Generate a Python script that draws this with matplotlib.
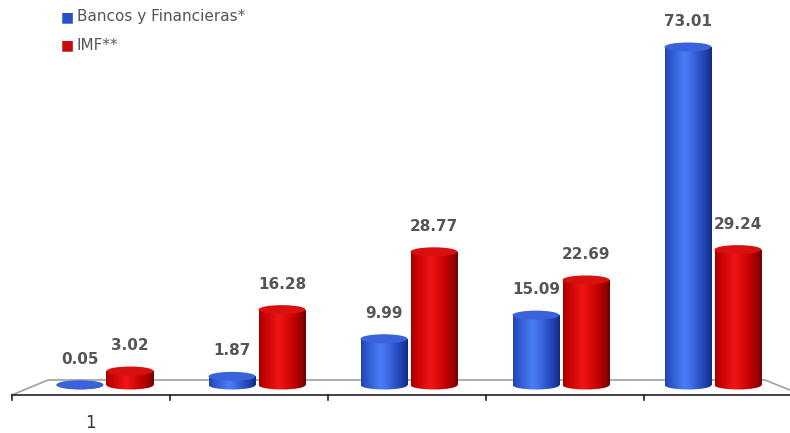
import numpy as np
import matplotlib.pyplot as plt
from matplotlib.patches import Ellipse, Rectangle
from matplotlib.colors import LinearSegmentedColormap

categories = ['1', '', '', '', '']
bancos = [0.05, 1.87, 9.99, 15.09, 73.01]
imf = [3.02, 16.28, 28.77, 22.69, 29.24]
series_names = ['Bancos y Financieras*', 'IMF**']

blue_cm = LinearSegmentedColormap.from_list('b', ['#102a80', '#2a50c8', '#4a7ef4'])
red_cm = LinearSegmentedColormap.from_list('r', ['#700000', '#c00000', '#f01616'])
blue_top = '#3a62dc'
red_top = '#d81010'

# pixel geometry -> data mapping
px_per_cat = 152.0
px_per_unit = 4.63
fig = plt.figure(figsize=(7.9, 4.33), dpi=100)
ax = fig.add_axes([0, 0, 1, 1])
ax.set_xlim(-105 / px_per_cat, (790 - 105) / px_per_cat)
ax.set_ylim(-48 / px_per_unit, (433 - 48) / px_per_unit)
ax.axis('off')

bw = 47 / px_per_cat
eh = 9 / px_per_unit
off = 25 / px_per_cat

# shading profile across the cylinder
t = np.linspace(0, 1, 64)
shade = np.clip(1 - np.abs(t - 0.42) / 0.58, 0, 1) ** 0.8
grad = shade[np.newaxis, :]


def cylinder(xc, h, cmap, topc, z):
    x0, x1 = xc - bw / 2, xc + bw / 2
    body = Rectangle((x0, 0), bw, h, transform=ax.transData)
    im = ax.imshow(grad, extent=[x0, x1, -eh / 2, h], aspect='auto', cmap=cmap,
                   vmin=0, vmax=1, zorder=z, interpolation='bilinear')
    im.set_clip_path(body)
    bot = Ellipse((xc, 0), bw, eh, transform=ax.transData)
    im2 = ax.imshow(grad, extent=[x0, x1, -eh / 2, eh / 2], aspect='auto', cmap=cmap,
                    vmin=0, vmax=1, zorder=z, interpolation='bilinear')
    im2.set_clip_path(bot)
    ax.add_patch(Ellipse((xc, h), bw, eh, facecolor=topc, edgecolor='none', zorder=z + 0.1))


# floor drawn in perspective: the front edge is slightly wider than the back
n = len(categories)
vp = 2.32
persp = 1.04


def front(x):
    return vp + (x - vp) * persp


front_y = -10 / px_per_unit
back_y = 5 / px_per_unit
ax.plot([front(-0.5), -0.375, 4.342, front(n - 0.5)],
        [front_y, back_y, back_y, front_y], color='#a0a0a0', lw=1.2, zorder=1)
ax.plot([front(-0.5), front(n - 0.5)], [front_y, front_y], color='#222222', lw=1.2, zorder=1)
for i in range(n):
    ax.plot([front(i - 0.5)] * 2, [front_y, front_y - 5 / px_per_unit], color='#222222', lw=1.2, zorder=1)

lbl = dict(ha='center', va='bottom', fontsize=11, fontweight='bold', color='#555555',
           textcoords='offset points')
for i in range(n):
    cylinder(i - off, bancos[i], blue_cm, blue_top, 3)
    cylinder(i + off, imf[i], red_cm, red_top, 4)
    ax.annotate('%.2f' % bancos[i], (i - off, bancos[i]), xytext=(0, 13), **lbl)
    ax.annotate('%.2f' % imf[i], (i + off, imf[i]), xytext=(0, 13), **lbl)
    ax.annotate(categories[i], (front(i), front_y), xytext=(0, -20), textcoords='offset points',
                ha='center', va='center', fontsize=12, color='#333333')

# legend
fig.text(61 / 790, 1 - 17 / 433, '\u25a0', color='#2a50c8', fontsize=10, va='center', ha='left')
fig.text(77 / 790, 1 - 17 / 433, series_names[0], color='#555555', fontsize=11, va='center', ha='left')
fig.text(61 / 790, 1 - 45 / 433, '\u25a0', color='#c80c0c', fontsize=10, va='center', ha='left')
fig.text(77 / 790, 1 - 45 / 433, series_names[1], color='#555555', fontsize=11, va='center', ha='left')

fig.savefig('out.png', dpi=100)
